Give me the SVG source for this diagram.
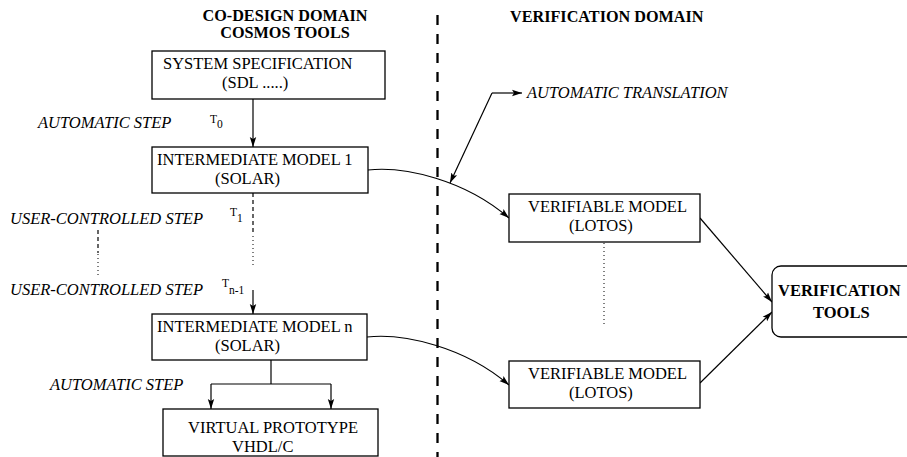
<svg xmlns="http://www.w3.org/2000/svg" width="907" height="457" viewBox="0 0 907 457" font-family="'Liberation Serif', 'Times New Roman', Times, serif">
<style>
.box{fill:#fff;stroke:#000;stroke-width:1.3}
.t{font-family:'Liberation Serif','Times New Roman',Times,serif;font-size:16.5px;fill:#000}
.b{font-weight:bold}
.h{font-size:16.2px}
.i{font-style:italic}
.s{font-family:'Liberation Serif','Times New Roman',Times,serif;font-size:11.5px;fill:#000}
.ln{fill:none;stroke:#000;stroke-width:1.2}
.dash{stroke-width:2.3px;stroke-dasharray:10,9}
.dot{stroke-width:1px;stroke-dasharray:1,3}
.sd{stroke-dasharray:4,3}
.arr{marker-end:url(#ah)}
</style>
<defs>
<marker id="ah" markerWidth="10" markerHeight="8" refX="10" refY="4" orient="auto" markerUnits="userSpaceOnUse">
<path d="M0,0.8 L10,4 L0,7.2 L2,4 z" fill="#000"/>
</marker>
</defs>
<rect width="907" height="457" fill="#fff"/>
<g id="headers">
<text class="t b h" x="285" y="21" text-anchor="middle">CO-DESIGN DOMAIN</text>
<text class="t b h" x="285" y="38" text-anchor="middle">COSMOS TOOLS</text>
<text class="t b h" x="510" y="22">VERIFICATION DOMAIN</text>
</g>
<g id="labels">
<text class="t i" x="38" y="128">AUTOMATIC STEP</text>
<text class="t i" x="10" y="224">USER-CONTROLLED STEP</text>
<text class="t i" x="10" y="295">USER-CONTROLLED STEP</text>
<text class="t i" x="50" y="390">AUTOMATIC STEP</text>
<text class="t i" x="527" y="98">AUTOMATIC TRANSLATION</text>
<text class="s" x="210" y="123">T<tspan dy="5">0</tspan></text>
<text class="s" x="230" y="216">T<tspan dy="6">1</tspan></text>
<text class="s" x="222" y="287">T<tspan dy="7">n-1</tspan></text>
</g>
<g id="connectors">
<line class="ln dash" x1="437.5" y1="15" x2="437.5" y2="457"/>
<line class="ln arr" x1="253" y1="99" x2="253" y2="147"/>
<line class="ln sd" x1="253" y1="193" x2="253" y2="235"/>
<line class="ln dot" x1="253" y1="236" x2="253" y2="268"/>
<line class="ln sd" x1="98" y1="230" x2="98" y2="253"/>
<line class="ln dot" x1="98" y1="254" x2="98" y2="277"/>
<line class="ln arr" x1="253" y1="290" x2="253" y2="314"/>
<polyline class="ln" points="271,360 271,384"/>
<polyline class="ln" points="211,384 331,384"/>
<line class="ln arr" x1="211" y1="384" x2="211" y2="409"/>
<line class="ln arr" x1="331" y1="384" x2="331" y2="409"/>
<path class="ln arr" d="M368,170 C405,166 465,180 509,218"/>
<path class="ln arr" d="M367,337 C404,333 465,347 509,385"/>
<polyline class="ln arr" points="492,93 522,93"/>
<polyline class="ln arr" points="492,93 450,183"/>
<line class="ln dot" x1="604" y1="243" x2="604" y2="325"/>
<line class="ln arr" x1="700" y1="218" x2="772" y2="302"/>
<line class="ln arr" x1="700" y1="383" x2="772" y2="312"/>
</g>
<g id="sysspec">
<rect class="box" x="152" y="51" width="233" height="48"/>
<text class="t" x="163" y="69">SYSTEM SPECIFICATION</text>
<text class="t" x="222" y="88">(SDL .....)</text>
</g>
<g id="im1">
<rect class="box" x="152" y="147" width="216" height="46"/>
<text class="t" x="157" y="165">INTERMEDIATE MODEL 1</text>
<text class="t" x="215" y="184">(SOLAR)</text>
</g>
<g id="imn">
<rect class="box" x="152" y="314" width="215" height="46"/>
<text class="t" x="157" y="332">INTERMEDIATE MODEL n</text>
<text class="t" x="215" y="351">(SOLAR)</text>
</g>
<g id="vproto">
<rect class="box" x="163" y="409" width="215" height="47"/>
<text class="t" x="188" y="433">VIRTUAL PROTOTYPE</text>
<text class="t" x="232" y="452">VHDL/C</text>
</g>
<g id="vm1">
<rect class="box" x="509" y="194" width="191" height="48"/>
<text class="t" x="528" y="212">VERIFIABLE MODEL</text>
<text class="t" x="569" y="231">(LOTOS)</text>
</g>
<g id="vm2">
<rect class="box" x="509" y="361" width="191" height="47"/>
<text class="t" x="528" y="379">VERIFIABLE MODEL</text>
<text class="t" x="569" y="398">(LOTOS)</text>
</g>
<g id="vtools">
<rect class="box" x="772" y="266" width="145" height="71" rx="9"/>
<text class="t b" x="778" y="296">VERIFICATION</text>
<text class="t b" x="813" y="318">TOOLS</text>
</g>
</svg>
